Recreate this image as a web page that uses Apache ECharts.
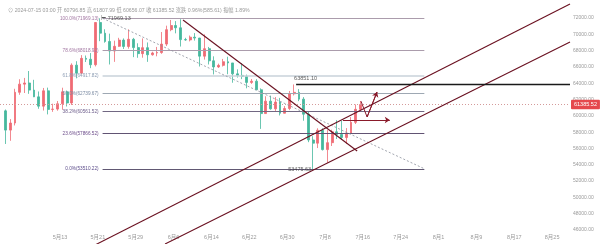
<!DOCTYPE html>
<html><head><meta charset="utf-8">
<script src="https://cdn.jsdelivr.net/npm/echarts@6/dist/echarts.min.js"></script>
<style>html,body{margin:0;padding:0;background:#fff}#c{width:600px;height:244px}</style>
</head><body><div id="c"></div>
<script>
// ---- data (daily candles) ----
const dates = ['2024-05-01','2024-05-02','2024-05-03','2024-05-04','2024-05-05','2024-05-06','2024-05-07','2024-05-08','2024-05-09','2024-05-10',
'2024-05-11','2024-05-12','2024-05-13','2024-05-14','2024-05-15','2024-05-16','2024-05-17','2024-05-18','2024-05-19','2024-05-20',
'2024-05-21','2024-05-22','2024-05-23','2024-05-24','2024-05-25','2024-05-26','2024-05-27','2024-05-28','2024-05-29','2024-05-30',
'2024-05-31','2024-06-01','2024-06-02','2024-06-03','2024-06-04','2024-06-05','2024-06-06','2024-06-07','2024-06-08','2024-06-09',
'2024-06-10','2024-06-11','2024-06-12','2024-06-13','2024-06-14','2024-06-15','2024-06-16','2024-06-17','2024-06-18','2024-06-19',
'2024-06-20','2024-06-21','2024-06-22','2024-06-23','2024-06-24','2024-06-25','2024-06-26','2024-06-27','2024-06-28','2024-06-29',
'2024-06-30','2024-07-01','2024-07-02','2024-07-03','2024-07-04','2024-07-05','2024-07-06','2024-07-07','2024-07-08','2024-07-09',
'2024-07-10','2024-07-11','2024-07-12','2024-07-13','2024-07-14','2024-07-15'];
const openP = [60610,58250,59120,62890,63890,64030,63160,62330,61190,63070,
60790,60830,61480,62940,61580,66220,65230,67050,66940,66270,
71450,70140,69120,67950,68530,69290,68510,69390,68370,67630,
68360,67490,67710,67760,68800,70570,71080,70800,69350,69310,
69650,69540,67320,68240,66750,66000,66190,66640,66490,65150,
64960,64830,64100,64250,63200,60280,61800,60860,61690,60320,
60900,62700,62880,62050,60200,57040,56650,58240,55860,56710,
58040,57720,57340,57890,59200,60796.85];
const highP = [60780,59600,63320,64490,64650,65500,64420,62990,63420,63460,
61490,61820,63450,63100,66440,66700,67450,67400,67700,71500,
71969.13,70620,70080,69220,69570,69500,70600,69560,68900,69500,
69000,67860,68450,70280,71060,71760,71620,71850,69570,69850,
70150,69560,69990,68450,67300,66400,66980,67250,66490,65700,
66480,65060,64520,64500,63370,62400,62480,62300,62200,61200,
63050,63851.10,63280,62300,60500,57500,58480,58480,58250,58300,
59470,59400,58500,59850,61400,61807.99];
const lowP = [56550,56940,58820,62580,62800,62700,62300,60870,60650,60180,
60490,60630,60750,61150,61330,64600,65100,66600,65850,66060,
69160,68970,66300,66620,68460,68200,68240,67200,67120,67130,
66620,67380,67300,67610,68560,70380,70120,68500,69210,69130,
69230,66050,66900,66300,65080,65870,66050,65100,64060,64690,
64500,63380,63920,63200,58400,60250,60750,60600,60050,60300,
60700,62500,61800,59400,56770,53475.63,56050,55750,54260,56300,
57160,57050,56540,57770,59000,60656.07];
const closeP = [58250,59120,62890,63890,64030,63160,62330,61190,63070,60790,
60830,61480,62940,61580,66220,65230,67050,66940,66270,71450,
70140,69120,67950,68530,69290,68510,69390,68370,67630,68360,
67490,67710,67760,68800,70570,71080,70800,69350,69310,69650,
69540,67320,68240,66750,66000,66190,66640,66490,65150,64960,
64830,64100,64250,63200,60280,61800,60860,61690,60320,60900,
62700,62880,62050,60200,57040,56650,58240,55860,56710,58040,
57720,57340,57890,59200,60800,61385.52];

const fibRatios = ['100.0%','78.6%','61.8%','50.0%','38.2%','23.6%','0.0%'];
const fibPrices = [71969.13,68018.92,64917.82,62739.67,60561.52,57866.52,53510.22];
const fibLineColors = ['#ab9cac','#ab9cac','#c9d2da','#9ea8b3','#716782','#615373','#615873'];
const fibLabelColors = ['#a277a2','#a277a2','#8c9cb3','#7a8aa2','#6c5c8a','#6c4c8a','#5c4c8a'];

const xTickDays = [0,8,16,24,32,40,48,56,64,72,80,88,96,104]; // days after 2024-05-13
const lastPrice = 61385.52;
const headerText = '⊙ 2024-07-15 03:00 开 60796.85 高 61807.99 低 60656.07 收 61385.52 涨跌 0.96%(585.61) 振幅 1.89%';

// drawing anchors (day index from 2024-05-13, price)
const fibStart = [9, 71969.13], fibEnd = [77, 53510.22];
const downTrend = [[26.0, 71755], [62.8, 55690]];
const upperChannel = [[7.4, 44160], [107.78, 73717]];
const lowerChannel = [[22.2, 44283], [107.78, 69057]];
const resistance = [[49.9, 63851.10], [107.78, 63851.10]];
const zigzag = [[63.6, 61800], [64.9, 59860], [67.0, 62925]];
const hArrow = [[59.8, 59490], [69.7, 59490]];

// ---- build ----
const base = Date.UTC(2024, 4, 13);
function dayIdx(s){const p=s.split('-').map(Number);return (Date.UTC(p[0],p[1]-1,p[2])-base)/86400000;}
const candles = dates.map((t,i)=>[dayIdx(t)+0.5, openP[i], closeP[i], lowP[i], highP[i]]);
const lowIdx = lowP.indexOf(Math.min(...lowP));
const highIdx = highP.indexOf(Math.max(...highP));

const FONT = "'Liberation Sans','Noto Sans CJK SC',sans-serif";
const maroon = '#6a1020';
function seg(data, color, width, type){
  return {type:'line', data, symbol:'none', clip:false, silent:true, animation:false,
    lineStyle:{color, width, type: type||'solid'}, z:5};
}

const chart = echarts.init(document.getElementById('c'), null, {renderer:'canvas'});
chart.setOption({
  animation:false,
  backgroundColor:'#fff',
  title:{text:headerText, left:3, top:3, textStyle:{fontSize:5.2, color:'#9a9a9a', fontWeight:'normal', fontFamily:FONT}},
  grid:{left:0, right:30, top:18, bottom:14},
  xAxis:{type:'value', min:-12.68, max:107.78,
    axisLine:{show:false}, axisTick:{show:false}, splitLine:{show:false},
    axisLabel:{fontSize:5.5, color:'#9a9a9a', margin:5, fontFamily:FONT, customValues:xTickDays,
      formatter:v=>{const d=new Date(base+v*86400000);return (d.getUTCMonth()+1)+'月'+d.getUTCDate();}}},
  yAxis:{type:'value', position:'right', min:46000, max:72000, interval:2000,
    axisLine:{show:false}, axisTick:{show:false}, splitLine:{show:false},
    axisLabel:{fontSize:5, color:'#9a9a9a', margin:3, fontFamily:FONT, formatter:v=>v.toFixed(2)}},
  series:[
    {type:'candlestick', data:candles, encode:{x:0, y:[1,2,3,4]}, barWidth:2.4, z:3,
      itemStyle:{color:'#ef6b74', color0:'#45b89d', borderColor:'#ef6b74', borderColor0:'#45b89d', borderWidth:0.8},
      markLine:{silent:true, symbol:'none', animation:false,
        data:[{yAxis:lastPrice}],
        lineStyle:{color:'#d49a9a', type:[1,2], width:1},
        label:{position:'end', distance:1, formatter:lastPrice.toFixed(2), color:'#fff', backgroundColor:'#e5484d',
          fontSize:5.5, fontFamily:FONT, padding:[2,3,2,3], borderRadius:1}}},
    {type:'line', data:[], silent:true, z:2,
      markLine:{silent:true, symbol:'none', animation:false,
        data: fibPrices.map((p,i)=>[
          {coord:[fibStart[0], p], lineStyle:{color:fibLineColors[i], width: i===2?1.6:1, type:'solid'},
           label:{show:true, position:'start', distance:4, formatter: fibRatios[i]+'('+p.toFixed(2)+')',
             color:fibLabelColors[i], fontSize:4.7, fontFamily:FONT}},
          {coord:[fibEnd[0], p]}])}},
    seg([fibStart, fibEnd], '#8a8f9a', 0.8, [2,2]),
    seg(downTrend, maroon, 1.1),
    seg(upperChannel, maroon, 1.1),
    seg(lowerChannel, maroon, 1.1),
    seg(resistance, '#1a1a1a', 1.4),
    Object.assign(seg(zigzag, '#8a1a2a', 1), {
      markLine:{silent:true, animation:false, symbol:['none','arrow'], symbolSize:5,
        lineStyle:{color:'#8a1a2a', width:1, type:'solid'}, label:{show:false},
        data:[[{coord:zigzag[1]},{coord:zigzag[2]}],[{coord:hArrow[0]},{coord:hArrow[1]}]]}}),
    {type:'scatter', symbolSize:0, silent:true, z:10, data:[
      {value:[candles[highIdx][0], highP[highIdx]], label:{show:true, position:'right', distance:1, formatter:'⊢ '+highP[highIdx].toFixed(2)}},
      {value:[candles[lowIdx][0], lowP[lowIdx]], label:{show:true, position:'left', distance:2, formatter:lowP[lowIdx].toFixed(2)}},
      {value:resistance[0], label:{show:true, position:'top', distance:3, align:'left', offset:[-2,0], formatter:resistance[0][1].toFixed(2)}}
    ], label:{fontSize:5.5, color:'#333', fontFamily:FONT}}
  ]
});
</script>
</body></html>
